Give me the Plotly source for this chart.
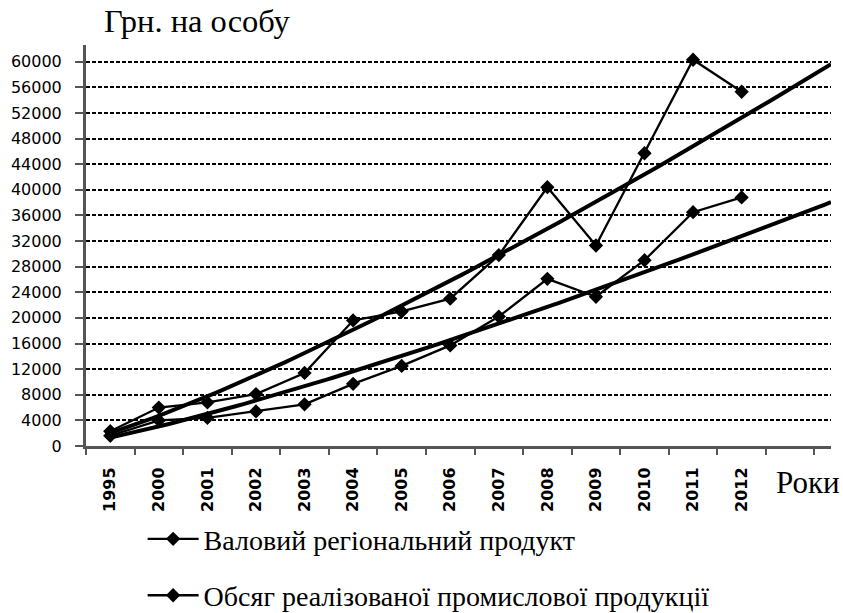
import numpy as np
import plotly.graph_objects as go

years = ["1995", "2000", "2001", "2002", "2003", "2004", "2005", "2006",
         "2007", "2008", "2009", "2010", "2011", "2012"]
grp = [2300, 6000, 6800, 8100, 11400, 19600, 21000, 23000,
       29800, 40400, 31300, 45700, 60300, 55300]
industry = [1600, 4000, 4400, 5400, 6500, 9700, 12500, 15700,
            20200, 26100, 23300, 29000, 36500, 38800]
series_names = ["Валовий регіональний продукт",
                "Обсяг реалізованої промислової продукції"]
y_ticks = list(range(0, 60001, 4000))
forecast_periods = 1.84  # trend line forward extension (in categories)

idx = np.arange(len(years))


def power_trend(vals):
    # Excel-style power trend line: ln y = ln a + b ln x, x = 1..n
    xe = idx + 1.0
    b, lna = np.polyfit(np.log(xe), np.log(np.array(vals, float)), 1)
    xs = np.linspace(1.0, len(years) + forecast_periods, 120)
    return xs - 1.0, np.exp(lna) * xs ** b


fig = go.Figure()

for vals in (grp, industry):
    tx, ty = power_trend(vals)
    fig.add_trace(go.Scatter(x=tx, y=ty, mode="lines", showlegend=False,
                             line=dict(color="black", width=4),
                             hoverinfo="skip"))

for i, (name, vals) in enumerate(zip(series_names, (grp, industry))):
    fig.add_trace(go.Scatter(
        x=idx, y=vals, mode="lines+markers", name=name,
        legendgroup=f"g{i}",
        line=dict(color="black", width=2.3),
        marker=dict(symbol="diamond", size=11, color="black"),
    ))

x_end = len(years) - 1 + forecast_periods

fig.update_layout(
    width=843, height=613,
    margin=dict(l=86, r=12, t=45, b=167, autoexpand=False),
    paper_bgcolor="white", plot_bgcolor="white",
    font=dict(family="DejaVu Sans", color="black"),
    showlegend=True,
    legend=dict(
        x=0.076, y=-0.17, xanchor="left", yanchor="top",
        font=dict(family="Liberation Serif", size=28, color="black"),
        tracegroupgap=17, itemwidth=51,
        bgcolor="rgba(0,0,0,0)",
    ),
    xaxis=dict(
        range=[-0.5, x_end],
        tickmode="array", tickvals=list(idx), ticktext=years,
        tickangle=-90, ticks="",
        tickfont=dict(family="DejaVu Sans", size=16, color="black",
                      weight="bold"),
        showgrid=False, zeroline=False, automargin=False,
        showline=True, linecolor="#555555", linewidth=3,
        minor=dict(tickmode="array",
                   tickvals=[k - 0.5 for k in range(len(years) + 2)],
                   ticks="outside", ticklen=6, tickwidth=2,
                   tickcolor="#555555", showgrid=False),
        ticklabelstandoff=12,
    ),
    yaxis=dict(
        range=[0, 62600],
        tickmode="array", tickvals=y_ticks,
        ticktext=[str(v) for v in y_ticks],
        tickfont=dict(family="DejaVu Sans", size=16, color="black"),
        ticks="outside", ticklen=8, tickwidth=2, tickcolor="#555555",
        showline=True, linecolor="#555555", linewidth=3,
        showgrid=True, gridcolor="black", gridwidth=2, griddash="4px,2px",
        zeroline=False, automargin=False,
        ticklabelstandoff=10,
    ),
    annotations=[
        dict(text="Грн. на особу", xref="paper", yref="paper",
             x=0.0215, y=1.06, xanchor="left", yanchor="middle",
             showarrow=False,
             font=dict(family="Liberation Serif", size=32.5, color="black")),
        dict(text="Роки", xref="paper", yref="paper",
             x=1.0145, y=-0.092, xanchor="right", yanchor="middle",
             showarrow=False,
             font=dict(family="Liberation Serif", size=31, color="black")),
    ],
)

fig.write_html("out.html",
               config={"displayModeBar": False},
               post_script="document.body.style.margin='0px';")
